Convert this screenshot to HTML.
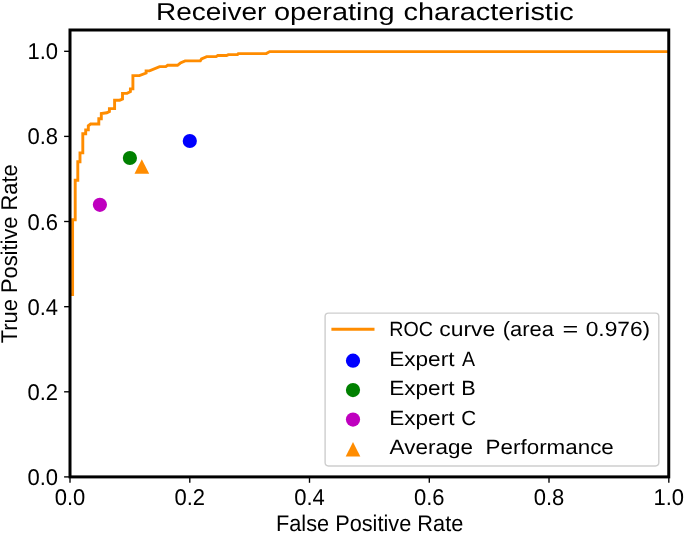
<!DOCTYPE html>
<html><head><meta charset="utf-8"><title>ROC</title>
<style>
html,body{margin:0;padding:0;background:#fff;}
body{width:685px;height:533px;overflow:hidden;}
svg{display:block;}
svg{will-change:transform;}
text{font-family:"Liberation Sans",sans-serif;fill:#000;text-rendering:geometricPrecision;}
</style></head><body>
<svg width="685" height="533" viewBox="0 0 685 533">
<rect x="0" y="0" width="685" height="533" fill="#fff"/>
<clipPath id="ax"><rect x="70.0" y="30.0" width="598.75" height="446.9"/></clipPath>
<g clip-path="url(#ax)">
<polyline points="70.0,294.6 72.6,294.6 72.6,219.7 75.2,219.7 75.2,180.2 77.8,180.2 77.8,161.8 80.0,161.8 80.0,152.9 82.8,152.9 82.8,133.8 85.7,133.8 85.7,129.9 88.3,129.9 88.3,125.8 90.6,124.0 98.8,124.0 98.8,118.7 101.3,118.7 101.3,113.6 106.8,112.8 109.4,111.6 109.4,108.6 114.6,108.6 114.6,100.2 119.7,100.2 122.5,99.0 122.5,93.4 127.0,93.4 130.4,91.7 130.4,88.9 132.9,88.9 132.9,75.6 139.4,75.6 146.1,73.1 146.1,70.9 149.5,70.9 159.6,66.6 165.8,66.6 167.6,65.3 177.5,65.3 180.4,63.0 185.1,60.9 200.3,60.9 201.5,58.9 206.7,56.6 216.1,56.6 217.8,55.5 226.6,55.5 228.3,54.6 237.5,54.6 238.3,53.6 266.3,53.6 269.7,51.6 668.7,51.6" fill="none" stroke="#FF8C00" stroke-width="2.9" stroke-linejoin="miter" stroke-linecap="butt"/>
</g>

<circle cx="189.8" cy="141.0" r="7.1" fill="#0000FF"/>
<circle cx="129.9" cy="158.0" r="7.1" fill="#008000"/>
<circle cx="99.9" cy="204.8" r="7.1" fill="#BF00BF"/>
<polygon points="141.8,159.2 134.5,173.8 149.2,173.8" fill="#FF8C00"/>
<line x1="70.0" y1="476.9" x2="70.0" y2="482.79999999999995" stroke="#000" stroke-width="1.35"/>
<line x1="70.0" y1="476.9" x2="64.1" y2="476.9" stroke="#000" stroke-width="1.35"/>
<text transform="translate(70.0,505.1) scale(1,1.04)" font-size="22" text-anchor="middle">0.0</text>
<text transform="translate(58,484.9) scale(1,1.04)" font-size="22" text-anchor="end">0.0</text>
<line x1="189.8" y1="476.9" x2="189.8" y2="482.79999999999995" stroke="#000" stroke-width="1.35"/>
<line x1="70.0" y1="391.8" x2="64.1" y2="391.8" stroke="#000" stroke-width="1.35"/>
<text transform="translate(189.8,505.1) scale(1,1.04)" font-size="22" text-anchor="middle">0.2</text>
<text transform="translate(58,399.8) scale(1,1.04)" font-size="22" text-anchor="end">0.2</text>
<line x1="309.5" y1="476.9" x2="309.5" y2="482.79999999999995" stroke="#000" stroke-width="1.35"/>
<line x1="70.0" y1="306.7" x2="64.1" y2="306.7" stroke="#000" stroke-width="1.35"/>
<text transform="translate(309.5,505.1) scale(1,1.04)" font-size="22" text-anchor="middle">0.4</text>
<text transform="translate(58,314.7) scale(1,1.04)" font-size="22" text-anchor="end">0.4</text>
<line x1="429.3" y1="476.9" x2="429.3" y2="482.79999999999995" stroke="#000" stroke-width="1.35"/>
<line x1="70.0" y1="221.5" x2="64.1" y2="221.5" stroke="#000" stroke-width="1.35"/>
<text transform="translate(429.3,505.1) scale(1,1.04)" font-size="22" text-anchor="middle">0.6</text>
<text transform="translate(58,229.5) scale(1,1.04)" font-size="22" text-anchor="end">0.6</text>
<line x1="549.0" y1="476.9" x2="549.0" y2="482.79999999999995" stroke="#000" stroke-width="1.35"/>
<line x1="70.0" y1="136.4" x2="64.1" y2="136.4" stroke="#000" stroke-width="1.35"/>
<text transform="translate(549.0,505.1) scale(1,1.04)" font-size="22" text-anchor="middle">0.8</text>
<text transform="translate(58,144.4) scale(1,1.04)" font-size="22" text-anchor="end">0.8</text>
<line x1="668.8" y1="476.9" x2="668.8" y2="482.79999999999995" stroke="#000" stroke-width="1.35"/>
<line x1="70.0" y1="51.3" x2="64.1" y2="51.3" stroke="#000" stroke-width="1.35"/>
<text transform="translate(668.8,505.1) scale(1,1.04)" font-size="22" text-anchor="middle">1.0</text>
<text transform="translate(58,59.3) scale(1,1.04)" font-size="22" text-anchor="end">1.0</text>
<rect x="70.0" y="30.0" width="598.75" height="446.9" fill="none" stroke="#000" stroke-width="3"/>
<text transform="translate(369.6,530.9) scale(1,1.04)" font-size="21.75" text-anchor="middle">False Positive Rate</text>
<text transform="translate(16.9,253.75) rotate(-90) scale(1,1.04)" font-size="21.85" text-anchor="middle">True Positive Rate</text>
<rect x="325.1" y="313.1" width="333.7" height="152.9" rx="3.4" ry="3.4" fill="#fff" fill-opacity="0.8" stroke="#cecece" stroke-width="1.4"/>
<line x1="331.4" y1="329.3" x2="374.5" y2="329.3" stroke="#FF8C00" stroke-width="2.9"/>
<circle cx="353.0" cy="360.7" r="7.1" fill="#0000FF"/>
<circle cx="353.0" cy="390.1" r="7.1" fill="#008000"/>
<circle cx="353.0" cy="419.6" r="7.1" fill="#BF00BF"/>
<polygon points="353.0,441.9 345.7,456.5 360.3,456.5" fill="#FF8C00"/>
<text x="155.96" y="20.0" font-size="24.5" textLength="110.40" lengthAdjust="spacingAndGlyphs">Receiver</text>
<text x="273.99" y="20.0" font-size="24.5" textLength="120.73" lengthAdjust="spacingAndGlyphs">operating</text>
<text x="403.59" y="20.0" font-size="24.5" textLength="170.18" lengthAdjust="spacingAndGlyphs">characteristic</text>
<text x="389.33" y="336.1" font-size="20.6" textLength="43.60" lengthAdjust="spacingAndGlyphs">ROC</text>
<text x="439.28" y="336.1" font-size="20.6" textLength="55.99" lengthAdjust="spacingAndGlyphs">curve</text>
<text x="502.79" y="336.1" font-size="20.6" textLength="51.13" lengthAdjust="spacingAndGlyphs">(area</text>
<text x="562.42" y="336.1" font-size="20.6" textLength="15.77" lengthAdjust="spacingAndGlyphs">=</text>
<text x="585.72" y="336.1" font-size="20.6" textLength="64.49" lengthAdjust="spacingAndGlyphs">0.976)</text>
<text x="389.19" y="365.6" font-size="20.6" textLength="65.26" lengthAdjust="spacingAndGlyphs">Expert</text>
<text x="462.00" y="365.6" font-size="20.6" textLength="13.04" lengthAdjust="spacingAndGlyphs">A</text>
<text x="389.19" y="395.1" font-size="20.6" textLength="65.26" lengthAdjust="spacingAndGlyphs">Expert</text>
<text x="461.17" y="395.1" font-size="20.6" textLength="14.45" lengthAdjust="spacingAndGlyphs">B</text>
<text x="389.19" y="424.6" font-size="20.6" textLength="65.26" lengthAdjust="spacingAndGlyphs">Expert</text>
<text x="461.27" y="424.6" font-size="20.6" textLength="14.89" lengthAdjust="spacingAndGlyphs">C</text>
<text x="389.60" y="454.1" font-size="20.6" textLength="83.31" lengthAdjust="spacingAndGlyphs">Average</text>
<text x="485.61" y="454.1" font-size="20.6" textLength="128.20" lengthAdjust="spacingAndGlyphs">Performance</text>
</svg></body></html>
